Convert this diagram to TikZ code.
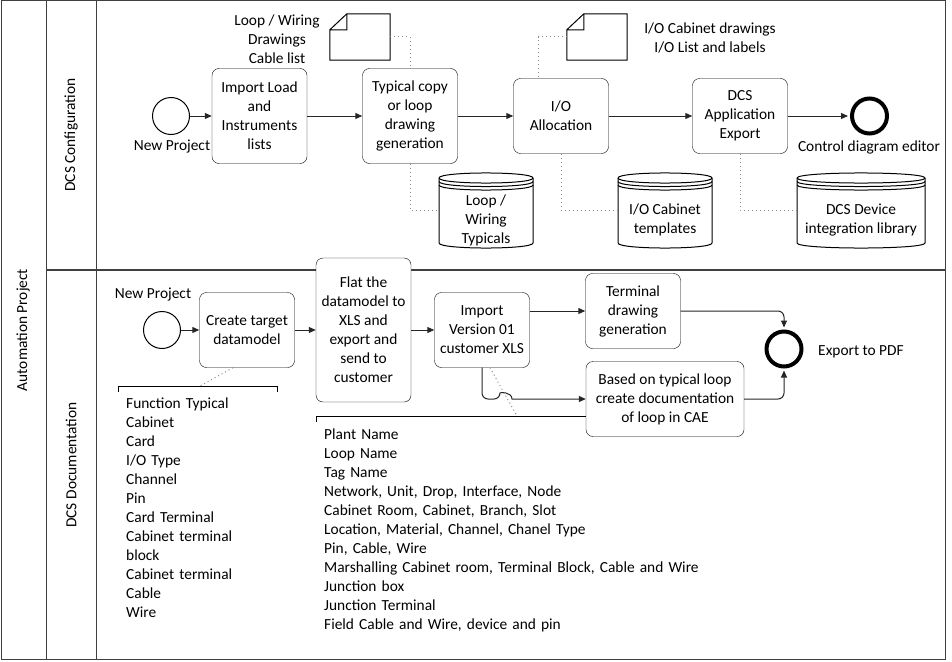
\documentclass[tikz,border=0pt]{standalone}
\usepackage{fontspec}
\setmainfont{Carlito}
\usetikzlibrary{arrows.meta,calc}

\tikzset{
  lane/.style={draw=black!75,line width=1.5pt},
  task/.style={draw,rounded corners=7pt,fill=white,align=center,
    minimum width=95pt,minimum height=75pt,inner sep=2pt},
  startev/.style={circle,draw,line width=1pt,minimum size=37pt,inner sep=0pt},
  endev/.style={circle,draw,line width=4pt,minimum size=35pt,inner sep=0pt},
  docicon/.style={minimum width=60pt,minimum height=46pt,inner sep=0pt},
  store/.style={minimum width=94pt,align=center,inner sep=0pt},
  note/.style={align=left,anchor=north west,inner xsep=8pt,inner ysep=12pt},
  flow/.style={draw=black!85,line width=1pt,-{Triangle[length=7pt,width=6pt]}},
  assoc/.style={draw=black!45,line width=1pt,dash pattern=on 1pt off 3pt},
}

\begin{document}
\begin{tikzpicture}[x=1pt,y=-1pt,font=\fontsize{15.4pt}{19pt}\selectfont]
\useasboundingbox (0,0) rectangle (952,661);

% pool and lanes
\draw[lane,line width=1pt] (1,1) rectangle (945,659);
\draw[lane,line width=1pt] (46,1) -- (46,659) (96,1) -- (96,659);
\draw[lane] (46,270) -- (945,270);
\node[rotate=90] (pool) at (23,330) {Automation Project};
\node[rotate=90] (conf) at (71,135) {DCS Configuration};
\node[rotate=90] (docu) at (71,465) {DCS Documentation};

% data stores
\foreach \xa/\xb in {439/533,618/712,797/925}{
  \draw[fill=white,line width=1pt] (\xa,178) -- (\xa,243)
    .. controls (\xa,249.7) and (\xb,249.7) .. (\xb,243) -- (\xb,178)
    .. controls (\xb,171.3) and (\xa,171.3) .. (\xa,178) -- cycle;
  \foreach \dy in {0,3.5,7}
    \draw[line width=1pt] (\xa,178+\dy) .. controls (\xa,184.7+\dy) and (\xb,184.7+\dy) .. (\xb,178+\dy);
}
\node[store] (lwt) at (486,220) {Loop /\\Wiring\\Typicals};
\node[store] (iot) at (665,220) {I/O Cabinet\\templates};
\node[store,minimum width=128pt] (ddt) at (861,220) {DCS Device\\integration library};

% documents
\node[docicon] (doc1) at (360,37) {};
\node[docicon] (doc2) at (597,37) {};
\foreach \d in {doc1,doc2}
  \draw[line width=1pt,fill=white] ($(\d.north west)+(17,0)$) -- (\d.north east) -- (\d.south east)
    -- (\d.south west) -- ($(\d.north west)+(0,16)$) -- cycle
    ($(\d.north west)+(17,0)$) -- ++(0,16) -- ++(-17,0);
\node[align=center] (doc1l) at (277,39) {Loop / Wiring\\Drawings\\Cable list};
\node[align=center] (doc2l) at (710,38) {I/O Cabinet drawings\\I/O List and labels};

% configuration lane
\node[startev] (np1) at (171,116) {};
\node (np1l) at (172,147) {New Project};
\node[task,minimum height=95pt] (imp) at (259.5,116) {Import Load\\and\\Instruments\\lists};
\node[task,minimum height=95pt] (tcl) at (410,116) {Typical copy\\or loop\\drawing\\generation};
\node[task] (ioa) at (561,116) {I/O\\Allocation};
\node[task] (dcs) at (740,116) {DCS\\Application\\Export};
\node[endev] (end1) at (869.5,116) {};
\node (end1l) at (869,147) {Control diagram editor};

\draw[flow] (np1) -- (imp);
\draw[flow] (imp) -- (tcl);
\draw[flow] (tcl) -- (ioa);
\draw[flow] (ioa) -- (dcs);
\draw[flow,shorten >=2pt] (dcs) -- (end1);

\draw[assoc] (doc1.east) -| (tcl.north);
\draw[assoc] (tcl.south) |- ([yshift=10pt]lwt.west);
\draw[assoc] (doc2.west) -| ([xshift=-23pt]ioa.north);
\draw[assoc] (ioa.south) |- ([yshift=10pt]iot.west);
\draw[assoc] (dcs.south) |- ([yshift=10pt]ddt.west);

% documentation lane
\node[note,text width=143pt] (ann1) at (118,386) {Function Typical\\Cabinet\\Card\\I/O Type\\Channel\\Pin\\Card Terminal\\Cabinet terminal\\block\\Cabinet terminal\\Cable\\Wire};
\draw[line width=1pt] ($(ann1.north west)+(0,6)$) -- (ann1.north west) -- (ann1.north east) -- ++(0,6);
\node[note,text width=420pt,inner ysep=13pt] (ann2) at (316,416) {Plant Name\\Loop Name\\Tag Name\\Network, Unit, Drop, Interface, Node\\Cabinet Room, Cabinet, Branch, Slot\\Location, Material, Channel, Chanel Type\\Pin, Cable, Wire\\Marshalling Cabinet room, Terminal Block, Cable and Wire\\Junction box\\Junction Terminal\\Field Cable and Wire, device and pin};
\draw[line width=1pt] ($(ann2.north west)+(0,6)$) -- (ann2.north west) -- ++(284,0);

\node[startev] (np2) at (162,330) {};
\node (np2l) at (153,295) {New Project};
\node[task] (ctd) at (247,330) {Create target\\datamodel};
\node[task,minimum height=144pt] (flat) at (363.5,330) {Flat the\\datamodel to\\XLS and\\export and\\send to\\customer};
\node[task] (iv) at (482,330) {Import\\Version 01\\customer XLS};
\node[task] (tdg) at (633,311) {Terminal\\drawing\\generation};
\node[task,minimum width=158pt] (btl) at (665,399) {Based on typical loop\\create documentation\\of loop in CAE};
\node[endev] (end2) at (784,349) {};
\node (end2l) at (861,352) {Export to PDF};

\draw[assoc] ([xshift=-14pt]ctd.south) -- ($(ann1.north west)+(82,0)$);
\draw[assoc] ([xshift=8pt]iv.south) -- ($(ann2.north west)+(201,0)$);

\draw[flow] (np2) -- (ctd);
\draw[flow] (ctd) -- (flat);
\draw[flow] (flat) -- (iv);
\draw[flow] (iv.east |- tdg.west) -- (tdg.west);
\draw[flow,rounded corners=6pt,shorten >=2pt] (tdg.east) -| (end2.north);
\draw[flow,rounded corners=6pt,shorten >=2pt] (btl.east) -| (end2.south);
\draw[flow] (iv.south) [rounded corners=6pt] |- ($(iv.south |- btl.west)+(18,0)$) [sharp corners]
  .. controls +(0,-7) and +(0,-7) .. ++(12,0) -- (btl.west);
\end{tikzpicture}
\end{document}
